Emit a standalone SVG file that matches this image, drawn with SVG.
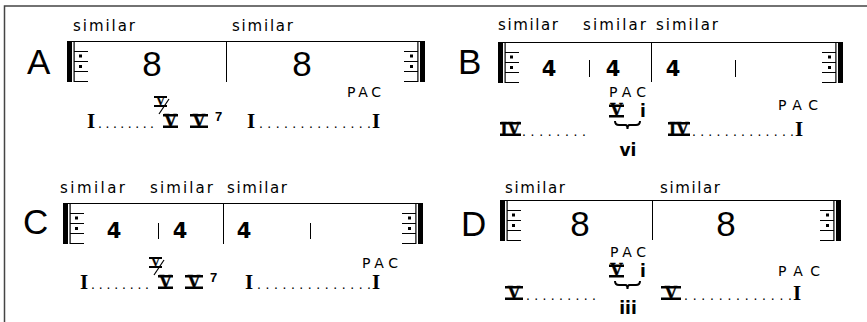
<svg xmlns="http://www.w3.org/2000/svg" xmlns:xlink="http://www.w3.org/1999/xlink" width="867" height="322" viewBox="0 0 867 322">
<style>
text{fill:#000}
.sim{font-family:"DejaVu Sans",sans-serif;font-size:15px}
.big{font-family:"Liberation Sans",Arial,sans-serif;font-size:35px}
.mid{text-anchor:middle}
.four{font-family:"DejaVu Sans",sans-serif;font-weight:bold;font-size:21px;text-anchor:middle}
.pac{font-family:"DejaVu Sans",sans-serif;font-size:14px}
.rn{font-family:"Liberation Serif",serif;font-weight:bold;font-size:21px}
.rv{font-family:"Liberation Serif",serif;font-weight:bold;font-size:18px;text-anchor:middle;stroke:#000;stroke-width:0.4}
.rvs{font-family:"Liberation Serif",serif;font-weight:bold;font-size:12px;text-anchor:middle;stroke:#000;stroke-width:0.3}
.dots{font-family:"Liberation Sans",Arial,sans-serif;font-size:14px}
.lc{font-family:"DejaVu Sans",sans-serif;font-weight:bold;font-size:17px;text-anchor:middle}
.sup{font-family:"Liberation Sans",Arial,sans-serif;font-weight:bold;font-size:13px}
.st{stroke:#000;stroke-width:1;fill:none}
.sl{stroke:#000;stroke-width:1.2;fill:none}
.brace{stroke:#000;stroke-width:2;fill:none}
.frame{stroke:#444;stroke-width:1.5;fill:none}
</style>
<defs>
<g id="repL">
<rect x="0" y="0" width="5" height="41"/>
<rect x="6.5" y="0" width="1.2" height="41"/>
<path d="M7 0.5H21M7 10.5H21M7 20.5H21M7 30.5H21M7 40.5H21" stroke="#000" stroke-width="1"/>
<rect x="12" y="13.5" width="3" height="3"/>
<rect x="12" y="24" width="3" height="3"/>
</g>
</defs>
<path class="frame" d="M4.5 322V6H867"/>

<g id="panelA">
<text class="sim" x="73" y="31" textLength="62">similar</text>
<text class="sim" x="232" y="31" textLength="61">similar</text>
<text class="big" x="27" y="74">A</text>
<use xlink:href="#repL" href="#repL" transform="translate(67,41)"/>
<path class="st" d="M67 41.5H425M226.5 41V82"/>
<use xlink:href="#repL" href="#repL" transform="translate(425,41) scale(-1,1)"/>
<text class="big mid" x="152" y="76">8</text>
<text class="big mid" x="302" y="76">8</text>
<text class="pac" x="347" y="97" textLength="34">PAC</text>
<text class="rn" x="87" y="128">I</text>
<text class="dots" x="98" y="128" textLength="56">........</text>
<rect x="154" y="96" width="13" height="2"/><rect x="154" y="105" width="13" height="2"/>
<text class="rvs" x="160.5" y="105">V</text>
<line class="sl" x1="169" y1="99" x2="159" y2="114"/>
<rect x="163" y="114" width="15" height="2.5"/><rect x="163" y="125.5" width="15" height="2.5"/>
<text class="rv" x="170.5" y="126.5">V</text>
<rect x="190" y="114" width="18" height="2.5"/><rect x="190" y="125.5" width="18" height="2.5"/>
<text class="rv" x="199" y="126.5">V</text>
<text class="sup" x="215" y="121">7</text>
<text class="rn" x="247" y="128">I</text>
<text class="dots" x="259" y="128" textLength="112">..............</text>
<text class="rn" x="372" y="128">I</text>
</g>

<g id="panelB">
<text class="sim" x="498" y="30" textLength="60">similar</text>
<text class="sim" x="583" y="30" textLength="63">similar</text>
<text class="sim" x="656" y="30" textLength="62">similar</text>
<text class="big" x="458" y="74">B</text>
<use xlink:href="#repL" href="#repL" transform="translate(498,42)"/>
<path class="st" d="M498 42.5H843M651.5 42V82M589.5 60V77M735.5 60V77"/>
<use xlink:href="#repL" href="#repL" transform="translate(843,42) scale(-1,1)"/>
<text class="four" x="549" y="76">4</text>
<text class="four" x="613" y="76">4</text>
<text class="four" x="673" y="76">4</text>
<text class="pac" x="609" y="97" textLength="37">PAC</text>
<rect x="609" y="104.5" width="15" height="2.5"/><rect x="609" y="115" width="15" height="2.5"/>
<text class="rv" x="616.5" y="116">V</text>
<text class="lc" x="643" y="117">i</text>
<path class="brace" d="M615 121q0 4 4 4h6.5q2 0 2 4q0-4 2-4h6.5q4 0 4-4"/>
<text class="lc" x="628" y="156">vi</text>
<rect x="500" y="122" width="21" height="2.5"/><rect x="500" y="133.5" width="21" height="2.5"/>
<text class="rv" x="510.5" y="134.5">IV</text>
<text class="dots" x="522" y="136" textLength="64">........</text>
<rect x="668" y="122" width="22" height="2.5"/><rect x="668" y="133.5" width="22" height="2.5"/>
<text class="rv" x="679" y="134.5">IV</text>
<text class="dots" x="692" y="136" textLength="102">.............</text>
<text class="rn" x="795" y="136">I</text>
<text class="pac" x="778" y="110" textLength="40">PAC</text>
</g>

<g id="panelC">
<text class="sim" x="60" y="193" textLength="65">similar</text>
<text class="sim" x="150" y="193" textLength="63">similar</text>
<text class="sim" x="227" y="193" textLength="60">similar</text>
<text class="big" x="23" y="234">C</text>
<use xlink:href="#repL" href="#repL" transform="translate(63,203)"/>
<path class="st" d="M63 203.5H423M223.5 203V244M158.5 223V239M310.5 223V239"/>
<use xlink:href="#repL" href="#repL" transform="translate(423,203) scale(-1,1)"/>
<text class="four" x="114" y="238">4</text>
<text class="four" x="180" y="238">4</text>
<text class="four" x="244" y="238">4</text>
<text class="pac" x="362" y="268" textLength="36">PAC</text>
<text class="rn" x="80" y="289">I</text>
<text class="dots" x="91" y="289" textLength="58">........</text>
<rect x="149" y="257" width="13" height="2"/><rect x="149" y="266" width="13" height="2"/>
<text class="rvs" x="155.5" y="266">V</text>
<line class="sl" x1="164" y1="260" x2="154" y2="275"/>
<rect x="158" y="275" width="15" height="2.5"/><rect x="158" y="286.5" width="15" height="2.5"/>
<text class="rv" x="165.5" y="287.5">V</text>
<rect x="185" y="275" width="18" height="2.5"/><rect x="185" y="286.5" width="18" height="2.5"/>
<text class="rv" x="194" y="287.5">V</text>
<text class="sup" x="210" y="282">7</text>
<text class="rn" x="245" y="289">I</text>
<text class="dots" x="257" y="289" textLength="114">..............</text>
<text class="rn" x="372" y="289">I</text>
</g>

<g id="panelD">
<text class="sim" x="505" y="193" textLength="60">similar</text>
<text class="sim" x="660" y="193" textLength="60">similar</text>
<text class="big" x="461" y="236">D</text>
<use xlink:href="#repL" href="#repL" transform="translate(500,200)"/>
<path class="st" d="M500 200.5H841M652.5 200V240"/>
<use xlink:href="#repL" href="#repL" transform="translate(841,200) scale(-1,1)"/>
<text class="big mid" x="580" y="236">8</text>
<text class="big mid" x="726" y="236">8</text>
<text class="pac" x="610" y="257" textLength="36">PAC</text>
<rect x="609" y="264.5" width="15" height="2.5"/><rect x="609" y="275" width="15" height="2.5"/>
<text class="rv" x="616.5" y="276">V</text>
<text class="lc" x="643" y="277">i</text>
<path class="brace" d="M615 281q0 4 4 4h6.5q2 0 2 4q0-4 2-4h6.5q4 0 4-4"/>
<text class="lc" x="628" y="314">iii</text>
<rect x="505" y="286" width="18" height="2.5"/><rect x="505" y="297.5" width="18" height="2.5"/>
<text class="rv" x="514" y="298.5">V</text>
<text class="dots" x="526" y="300" textLength="70">.........</text>
<rect x="661" y="286" width="20" height="2.5"/><rect x="661" y="297.5" width="20" height="2.5"/>
<text class="rv" x="671" y="298.5">V</text>
<text class="dots" x="684" y="300" textLength="108">.............</text>
<text class="rn" x="793" y="300">I</text>
<text class="pac" x="778" y="276" textLength="42">PAC</text>
</g>
</svg>
